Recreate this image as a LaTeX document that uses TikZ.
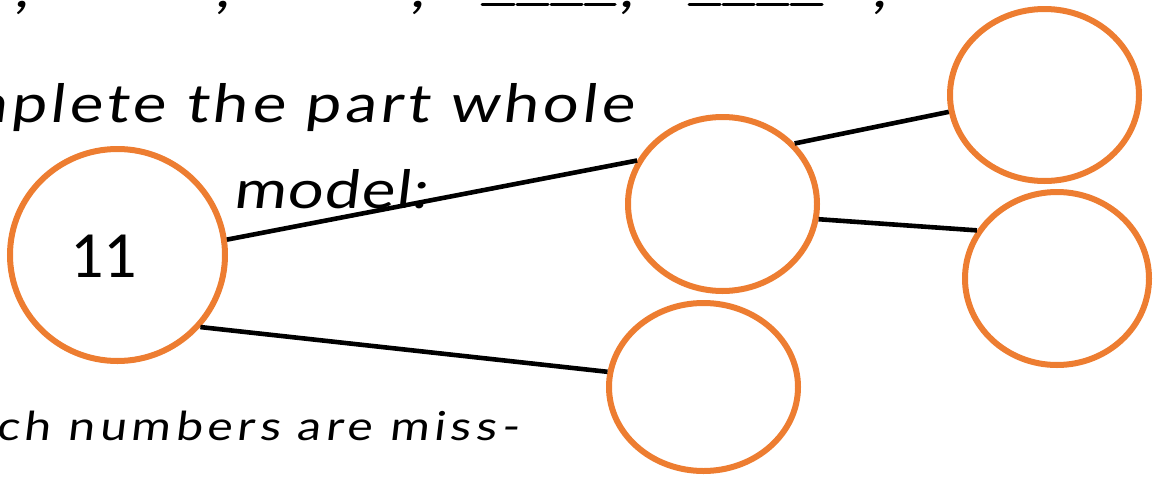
\documentclass[tikz,border=0pt]{standalone}
\usepackage{fontspec}
\usetikzlibrary{shapes.geometric}
\newfontfamily\hand{Lato}[FakeSlant=0.12, FakeStretch=1.2]
\newfontfamily\numfont{Carlito}
\definecolor{partorange}{HTML}{ED7D31}
\tikzset{
  pw/.style={ellipse, draw=partorange, line width=6pt, inner sep=0pt},
  link/.style={draw=black, line width=4.6pt},
  bigtxt/.style={inner sep=0pt, font=\hand\addfontfeature{LetterSpace=7}\fontsize{53}{60}\selectfont},
  smalltxt/.style={inner sep=0pt, font=\hand\addfontfeature{LetterSpace=12}\fontsize{40}{46}\selectfont},
  blankline/.style={line width=3pt, line cap=round}
}
\begin{document}
\begin{tikzpicture}[x=1pt,y=-1pt]
\useasboundingbox (0,0) rectangle (1157,477);
\clip (0,0) rectangle (1157,477);
% top, cut-off sequence line
\foreach \cx/\nm in {22/c1,223/c2,418/c3,627/c4,880/c5}
  \node[bigtxt, anchor=base] (\nm) at (\cx,7) {,};
\draw[blankline] (482,4) -- (514,4);
\draw[blankline] (517,4) -- (548,4);
\draw[blankline] (551,4) -- (582,4);
\draw[blankline] (585,4) -- (615,4);
\draw[blankline] (689,4) -- (720,4);
\draw[blankline] (723,4) -- (754,4);
\draw[blankline] (757,4) -- (788,4);
\draw[blankline] (791,4) -- (822,4);
% instructions
\node[bigtxt, anchor=base east] (instr) at (634,122) {Complete the part whole};
\node[bigtxt, anchor=base west, font=\hand\addfontfeature{LetterSpace=2}\fontsize{53}{60}\selectfont] (instr2) at (233,208) {model:};
\node[smalltxt, anchor=base east] (q) at (519,440) {Which numbers are miss-};
% part-whole circles
\node[pw, minimum width=215pt, minimum height=212pt] (whole) at (117.5,255) {};
\node[pw, minimum width=189pt, minimum height=174pt] (p1) at (722.5,204) {};
\node[pw, minimum width=189pt, minimum height=168pt] (p2) at (703.5,387) {};
\node[pw, minimum width=189pt, minimum height=172pt] (q1) at (1044.5,95) {};
\node[pw, minimum width=184pt, minimum height=173pt] (q2) at (1057,278.5) {};
\node[inner sep=0pt, font=\numfont\fontsize{66}{70}\selectfont] (wl) at (103.5,256) {11};
% connectors
\draw[link] (whole.8.7) -- (p1.153.6);
\draw[link] (whole.-41) -- (p2.171.7);
\draw[link] (p1.40.3) -- (q1.-170);
\draw[link] (p1.-9) -- (q2.149.8);
\end{tikzpicture}
\end{document}
